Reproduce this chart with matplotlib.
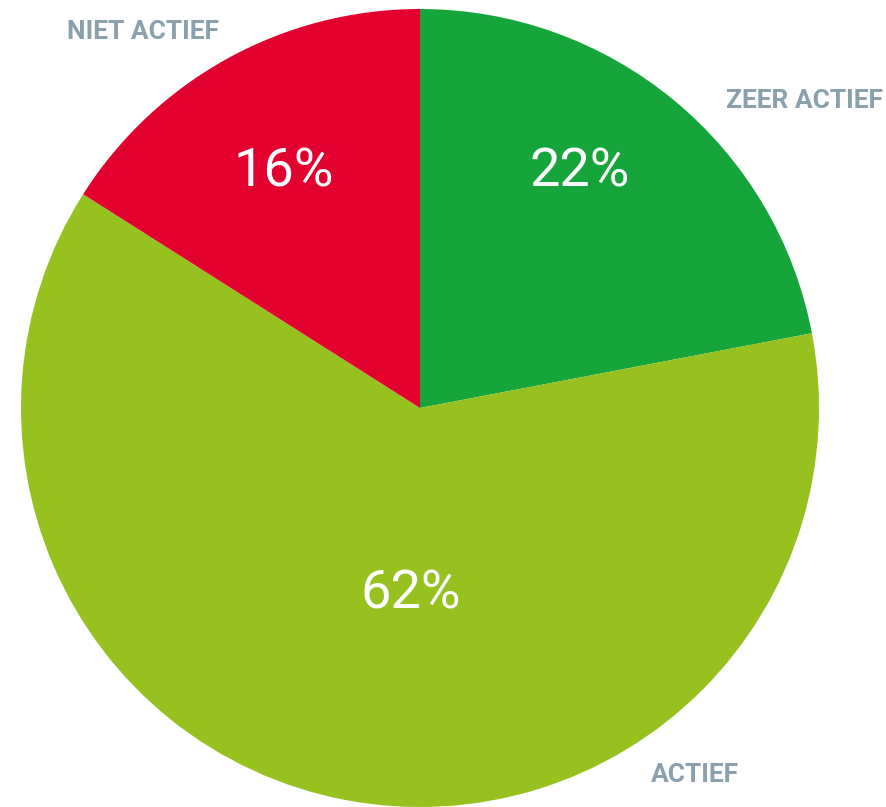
import matplotlib
matplotlib.use("Agg")
import matplotlib.pyplot as plt

# data
labels = ["ZEER ACTIEF", "ACTIEF", "NIET ACTIEF"]
shares = [22, 62, 16]
colors = ["#16a53a", "#97c11f", "#e2002f"]

W, H = 886, 807
fig = plt.figure(figsize=(W / 100, H / 100), dpi=100)
ax = fig.add_axes([0, 0, 1, 1])

cx, cy, r = 420, H - 408, 399
ax.pie(shares, colors=colors, startangle=90, counterclock=False,
       center=(cx, cy), radius=r, frame=True,
       wedgeprops=dict(linewidth=0))
ax.set_xlim(0, W)
ax.set_ylim(0, H)
ax.set_aspect("equal")
ax.axis("off")

# percentages inside slices (pixel positions from the reference)
pct_pos = [(580, 172), (411, 594), (284, 172)]
for s, (x, y) in zip(shares, pct_pos):
    ax.text(x, H - y, f"{s}%", color="white", fontsize=39,
            family="Roboto", weight="normal", ha="center", va="center")

# category labels outside
lab_pos = [(805, 101), (695, 775), (143, 32)]
for lab, (x, y) in zip(labels, lab_pos):
    ax.text(x, H - y, lab, color="#8aa0ac", fontsize=19,
            family="Roboto", weight="bold", ha="center", va="center")

fig.savefig("out.png", dpi=100)
